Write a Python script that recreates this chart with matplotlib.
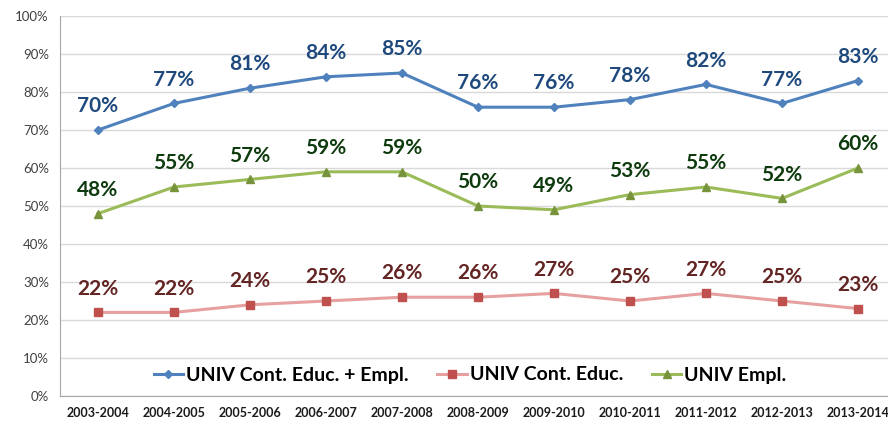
import matplotlib.pyplot as plt
import numpy as np

# chart data
years = ["2003-2004", "2004-2005", "2005-2006", "2006-2007", "2007-2008", "2008-2009",
         "2009-2010", "2010-2011", "2011-2012", "2012-2013", "2013-2014"]
educ_empl = [70, 77, 81, 84, 85, 76, 76, 78, 82, 77, 83]
cont_educ = [22, 22, 24, 25, 26, 26, 27, 25, 27, 25, 23]
empl = [48, 55, 57, 59, 59, 50, 49, 53, 55, 52, 60]
y_ticks = [0, 10, 20, 30, 40, 50, 60, 70, 80, 90, 100]

plt.rcParams['font.family'] = ['Lato', 'DejaVu Sans']

fig = plt.figure(figsize=(8.88, 4.26), dpi=100)
# plot area is cut off on the right in the original
ax = fig.add_axes([60 / 888, 1 - 396 / 426, 836 / 888, 380 / 426])

x = np.arange(len(years))
series = [
    (educ_empl, "UNIV Cont. Educ. + Empl.", "#4F81BD", "#4F81BD", "D", 4.5, "#1F497D"),
    (cont_educ, "UNIV Cont. Educ.", "#E6A0A0", "#C0504D", "s", 5.5, "#632523"),
    (empl, "UNIV Empl.", "#9BBB59", "#77933C", "^", 6, "#0E3B0E"),
]
for vals, name, lc, mc, mk, ms, tc in series:
    ax.plot(x, vals, color=lc, lw=2.2, marker=mk, ms=ms, mfc=mc, mec=mc, label=name, zorder=3)
    for xi, v in zip(x, vals):
        ax.annotate(f"{v}%", (xi, v), xytext=(0, 10), textcoords="offset points",
                    ha="center", va="bottom", fontsize=15, fontweight="bold", color=tc)

ax.set_xlim(-0.5, len(years) - 0.5)
ax.set_ylim(0, 100)
ax.set_yticks(y_ticks)
ax.set_yticklabels([f"{t}%" for t in y_ticks], fontsize=9.5, color="#404040")
ax.set_xticks(x)
ax.set_xticklabels(years, fontsize=9, fontweight="bold", color="#1a1a1a")
ax.tick_params(axis="both", length=0, pad=8)
ax.grid(axis="y", color="#D9D9D9", lw=1)
ax.set_axisbelow(True)
for s in ["top", "right"]:
    ax.spines[s].set_visible(False)
ax.spines["left"].set_color("#A6A6A6")
ax.spines["bottom"].set_color("#A6A6A6")

fig.legend(loc="center", bbox_to_anchor=(470 / 888, 1 - 375 / 426), ncol=3, frameon=False,
           prop={"size": 14, "weight": "bold"}, handlelength=1.5, handletextpad=0.15,
           columnspacing=1.5)

fig.savefig("out.png", dpi=100)
